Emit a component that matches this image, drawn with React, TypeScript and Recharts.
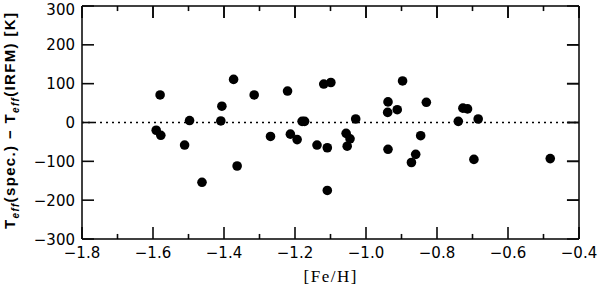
import React from 'react';
import { ScatterChart, Scatter, XAxis, YAxis, ReferenceLine } from 'recharts';

const feH = [
  -1.591, -1.58, -1.578, -1.511, -1.497, -1.462, -1.409, -1.406, -1.373, -1.363,
  -1.315, -1.269, -1.221, -1.213, -1.194, -1.18, -1.173, -1.138, -1.119, -1.109,
  -1.109, -1.099, -1.056, -1.053, -1.045, -1.029, -0.939, -0.938, -0.938, -0.912,
  -0.897, -0.872, -0.86, -0.846, -0.83, -0.74, -0.727, -0.714, -0.696, -0.684,
  -0.481,
];
const dTeff = [
  -20, 71, -33, -58, 5, -154, 4, 42, 111, -112,
  71, -36, 81, -30, -44, 3, 3, -58, 99, -65,
  -175, 103, -28, -61, -42, 9, 26, 53, -69, 33,
  107, -103, -82, -34, 52, 3, 37, 35, -95, 9,
  -93,
];
const xMajorTicks = [-1.8, -1.6, -1.4, -1.2, -1.0, -0.8, -0.6, -0.4];
const xMinorTicks = [-1.7, -1.5, -1.3, -1.1, -0.9, -0.7, -0.5];
const yTicks = [-300, -200, -100, 0, 100, 200, 300];

const X_MIN = -1.8;
const X_MAX = -0.4;
const Y_MIN = -300;
const Y_MAX = 300;

const data = feH.map((x, i) => ({ x, y: dTeff[i] }));

// tick-mark lengths in axis units (about 12 px major, 5 px minor)
const Y_MAJ = 31;
const Y_MINL = 13;
const X_MAJ = 0.034;

const INK = '#0a0a0a';
const TICK_FONT = '"DejaVu Sans", sans-serif';
const fmtX = (v: number) => (v < 0 ? '\u2212' : '') + Math.abs(v).toFixed(1);
const fmtY = (v: number) => (v < 0 ? '\u2212' : '') + Math.abs(v).toString();

const AL = { stroke: '#000', strokeWidth: 1.5 };
const TL = { stroke: INK, strokeWidth: 1.6 };

const BottomLabel = (p: any) => (
  <text x={p.x} y={p.y + 29} textAnchor="middle" fontFamily={TICK_FONT} fontSize={15} fill="#000">
    {fmtX(p.payload.value)}
  </text>
);
const LeftLabel = (p: any) => (
  <text x={p.x - 17} y={p.y + 5.5} textAnchor="end" fontFamily={TICK_FONT} fontSize={15} fill="#000">
    {fmtY(p.payload.value)}
  </text>
);

const Dot = (p: any) => <circle cx={p.cx} cy={p.cy} r={4.8} fill="#000" />;

const tickSeg = (key: string, a: { x: number; y: number }, b: { x: number; y: number }) => (
  <ReferenceLine key={key} xAxisId="b" yAxisId="l" segment={[a, b]} stroke={INK} strokeWidth={1.6} />
);

export default function App() {
  const innerX = xMajorTicks.filter((v) => v !== X_MIN && v !== X_MAX);
  const innerY = yTicks.filter((v) => v !== Y_MIN && v !== Y_MAX);
  const segs: any[] = [];
  innerX.forEach((v) => {
    segs.push(tickSeg('tM' + v, { x: v, y: Y_MAX }, { x: v, y: Y_MAX - Y_MAJ }));
  });
  xMinorTicks.forEach((v) => {
    segs.push(tickSeg('bm' + v, { x: v, y: Y_MIN }, { x: v, y: Y_MIN + Y_MINL }));
    segs.push(tickSeg('tm' + v, { x: v, y: Y_MAX }, { x: v, y: Y_MAX - Y_MINL }));
  });
  innerY.forEach((v) => {
    segs.push(tickSeg('r' + v, { x: X_MAX, y: v }, { x: X_MAX - X_MAJ, y: v }));
  });

  return (
    <div style={{ position: 'absolute', left: 0, top: 0, width: 600, height: 289 }}>
      <ScatterChart width={600} height={289} margin={{ top: 5, right: 20, bottom: 0, left: 0 }}>
        <XAxis
          xAxisId="b"
          dataKey="x"
          type="number"
          orientation="bottom"
          domain={[X_MIN, X_MAX]}
          ticks={xMajorTicks}
          height={50}
          tickSize={-12}
          tickLine={TL}
          axisLine={AL}
          tick={<BottomLabel />}
        />
        <XAxis
          xAxisId="t"
          dataKey="x"
          type="number"
          orientation="top"
          domain={[X_MIN, X_MAX]}
          ticks={xMajorTicks}
          height={1}
          tickSize={-12}
          tickLine={TL}
          axisLine={AL}
          tick={() => <g />}
        />
        <YAxis
          yAxisId="l"
          dataKey="y"
          type="number"
          orientation="left"
          domain={[Y_MIN, Y_MAX]}
          ticks={yTicks}
          width={82}
          tickSize={-12}
          tickLine={TL}
          axisLine={AL}
          tick={<LeftLabel />}
        />
        <YAxis
          yAxisId="r"
          dataKey="y"
          type="number"
          orientation="right"
          domain={[Y_MIN, Y_MAX]}
          ticks={yTicks}
          width={1}
          tickSize={-12}
          tickLine={TL}
          axisLine={AL}
          tick={() => <g />}
        />
        <ReferenceLine xAxisId="b" yAxisId="l" y={0} stroke="#000" strokeWidth={1.5} strokeDasharray="2 4" />
        {segs}
        <Scatter xAxisId="b" yAxisId="l" data={data} shape={<Dot />} isAnimationActive={false} />
        <Scatter xAxisId="t" yAxisId="r" data={data} shape={() => <g />} isAnimationActive={false} />
      </ScatterChart>
      <svg width={600} height={289} style={{ position: 'absolute', left: 0, top: 0, pointerEvents: 'none' }}>
        <text
          transform="translate(15,121) rotate(-90)"
          textAnchor="middle"
          fontFamily='"Liberation Sans", Arial, sans-serif'
          fontWeight="bold"
          fontSize={15}
          fill="#000"
          textLength={216}
          lengthAdjust="spacing"
        >
          T
          <tspan fontSize={10} fontStyle="italic" dy={4}>eff</tspan>
          <tspan dy={-4}>(spec.) {'\u2212'} T</tspan>
          <tspan fontSize={10} fontStyle="italic" dy={4}>eff</tspan>
          <tspan dy={-4}>(IRFM) [K]</tspan>
        </text>
        <text
          x={330}
          y={282}
          textAnchor="middle"
          fontFamily='"Liberation Serif", "Times New Roman", serif'
          fontSize={17}
          fill="#000"
          textLength={53}
          lengthAdjust="spacing"
        >
          [Fe/H]
        </text>
      </svg>
    </div>
  );
}
